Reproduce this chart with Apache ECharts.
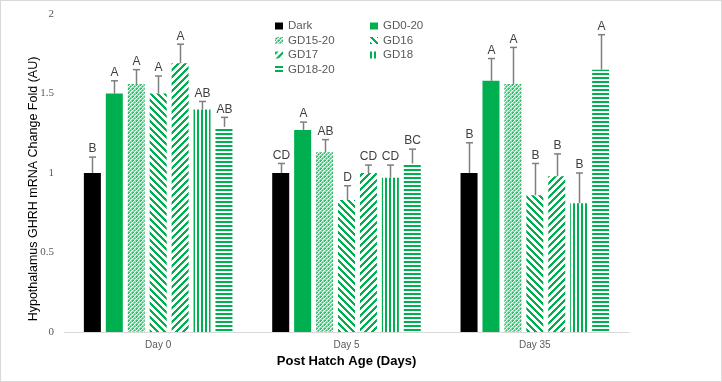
<!DOCTYPE html>
<html>
<head>
<meta charset="utf-8">
<script src="https://cdn.jsdelivr.net/npm/echarts@6/dist/echarts.min.js"></script>
<style>
  html, body { margin: 0; padding: 0; background: #fff; }
  #chart { width: 722px; height: 382px; box-sizing: border-box; border: 1px solid #d9d9d9; }
</style>
</head>
<body>
<div id="chart"></div>
<script>
  // data
  var categories = ['Day 0', 'Day 5', 'Day 35'];
  var groupNames = ['Dark', 'GD0-20', 'GD15-20', 'GD16', 'GD17', 'GD18', 'GD18-20'];

  var dark = [1.00, 1.00, 1.00];
  var gd0_20 = [1.50, 1.27, 1.58];
  var gd15_20 = [1.56, 1.13, 1.56];
  var gd16 = [1.50, 0.83, 0.86];
  var gd17 = [1.69, 1.00, 0.98];
  var gd18 = [1.40, 0.97, 0.81];
  var gd18_20 = [1.29, 1.06, 1.65];

  // top of the error bar (mean + SE)
  var darkErr = [1.10, 1.06, 1.19];
  var gd0_20Err = [1.58, 1.32, 1.72];
  var gd15_20Err = [1.65, 1.21, 1.79];
  var gd16Err = [1.61, 0.92, 1.06];
  var gd17Err = [1.81, 1.05, 1.12];
  var gd18Err = [1.45, 1.05, 1.00];
  var gd18_20Err = [1.35, 1.15, 1.87];

  var darkLet = ['B', 'CD', 'B'];
  var gd0_20Let = ['A', 'A', 'A'];
  var gd15_20Let = ['A', 'AB', 'A'];
  var gd16Let = ['A', 'D', 'B'];
  var gd17Let = ['A', 'CD', 'B'];
  var gd18Let = ['AB', 'CD', 'B'];
  var gd18_20Let = ['AB', 'BC', 'A'];

  var yTicks = [0, 0.5, 1, 1.5, 2];

  var values = [dark, gd0_20, gd15_20, gd16, gd17, gd18, gd18_20];
  var errs = [darkErr, gd0_20Err, gd15_20Err, gd16Err, gd17Err, gd18Err, gd18_20Err];
  var letters = [darkLet, gd0_20Let, gd15_20Let, gd16Let, gd17Let, gd18Let, gd18_20Let];

  var GREEN = '#00B050';
  var SANS = '"Liberation Sans", Arial, sans-serif';

  // pixel patterns like the excel fills
  function tile(n, test, bg) {
    var c = document.createElement('canvas');
    c.width = n; c.height = n;
    var ctx = c.getContext('2d');
    ctx.fillStyle = bg || '#ffffff';
    ctx.fillRect(0, 0, n, n);
    for (var y = 0; y < n; y++) {
      for (var x = 0; x < n; x++) {
        var col = test(x, y);
        if (col) { ctx.fillStyle = col; ctx.fillRect(x, y, 1, 1); }
      }
    }
    return { image: c, repeat: 'repeat' };
  }

  var fills = [
    '#000000',
    GREEN,
    tile(4, function (x, y) {
      if ((x + y) % 4 === 0) return '#ffffff';
      if ((x + 2 * y) % 3 === 0) return '#2fbf6c';
      return '#8fdcae';
    }, '#8fdcae'),
    tile(7, function (x, y) { return ((x - y + 14) % 7) < 3 ? GREEN : null; }),
    tile(7, function (x, y) { return ((x + y) % 7) < 3 ? GREEN : null; }),
    tile(4, function (x, y) { return (x % 4) < 2 ? GREEN : null; }),
    tile(4, function (x, y) { return (y % 4) < 2 ? GREEN : null; })
  ];

  var barW = 17;
  var barGap = 0.29;
  var step = barW * (1 + barGap);
  var total = groupNames.length * barW + (groupNames.length - 1) * barW * barGap;

  var series = [];
  groupNames.forEach(function (name, i) {
    series.push({
      name: name,
      type: 'bar',
      barWidth: barW,
      barGap: (barGap * 100) + '%',
      data: values[i],
      itemStyle: { color: fills[i] },
      emphasis: { disabled: true }
    });
  });

  // error bars + letters
  groupNames.forEach(function (name, i) {
    var offset = -total / 2 + barW / 2 + i * step;
    series.push({
      name: name + ' err',
      type: 'custom',
      silent: true,
      z: 5,
      encode: { x: 0, y: 2 },
      data: categories.map(function (c, k) {
        return [k, values[i][k], errs[i][k], letters[i][k]];
      }),
      renderItem: function (params, api) {
        var k = api.value(0);
        var base = api.coord([k, api.value(1)]);
        var top = api.coord([k, api.value(2)]);
        var x = Math.round(base[0] + offset) + 0.5;
        var st = { stroke: '#7f7f7f', lineWidth: 1.5 };
        return {
          type: 'group',
          children: [
            { type: 'line', shape: { x1: x, y1: base[1], x2: x, y2: top[1] }, style: st },
            { type: 'line', shape: { x1: x - 3.5, y1: top[1], x2: x + 3.5, y2: top[1] }, style: st },
            {
              type: 'text',
              style: {
                text: letters[i][k],
                x: x,
                y: top[1] - 2,
                align: 'center',
                verticalAlign: 'bottom',
                fill: '#404040',
                font: '12px ' + SANS
              }
            }
          ]
        };
      }
    });
  });

  var legendText = { color: '#595959', fontSize: 11.5, fontFamily: SANS };

  var option = {
    animation: false,
    backgroundColor: '#ffffff',
    grid: { left: 63, right: 92, top: 13, bottom: 49 },
    legend: [
      {
        orient: 'vertical',
        left: 274, top: 19, padding: 0,
        itemWidth: 8, itemHeight: 7, itemGap: 2.5,
        icon: 'rect',
        textStyle: legendText,
        data: ['Dark', 'GD15-20', 'GD17', 'GD18-20'],
        selectedMode: false
      },
      {
        orient: 'vertical',
        left: 369, top: 19, padding: 0,
        itemWidth: 8, itemHeight: 7, itemGap: 2.5,
        icon: 'rect',
        textStyle: legendText,
        data: ['GD0-20', 'GD16', 'GD18'],
        selectedMode: false
      }
    ],
    graphic: [
      {
        type: 'text',
        x: 33, y: 188,
        rotation: Math.PI / 2,
        style: {
          text: 'Hypothalamus GHRH mRNA Change Fold (AU)',
          align: 'center',
          verticalAlign: 'middle',
          fill: '#000',
          font: '12.5px ' + SANS
        }
      }
    ],
    xAxis: {
      type: 'category',
      data: categories,
      name: 'Post Hatch Age (Days)',
      nameLocation: 'middle',
      nameGap: 23,
      nameTextStyle: { color: '#000', fontSize: 13, fontWeight: 'bold', fontFamily: SANS },
      axisLine: { lineStyle: { color: '#d9d9d9', width: 1 } },
      axisTick: { show: false },
      axisLabel: { color: '#595959', fontSize: 10, margin: 8, fontFamily: SANS }
    },
    yAxis: {
      type: 'value',
      min: yTicks[0],
      max: yTicks[yTicks.length - 1],
      interval: 0.5,
      splitLine: { show: false },
      axisLine: { show: false },
      axisTick: { show: false },
      axisLabel: { color: '#595959', fontSize: 11, margin: 10, fontFamily: '"Liberation Serif", serif' }
    },
    series: series
  };

  var chart = echarts.init(document.getElementById('chart'));
  chart.setOption(option);
</script>
</body>
</html>
